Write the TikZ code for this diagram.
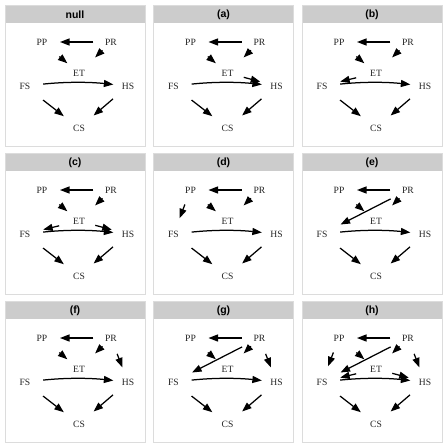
\documentclass[tikz,border=0pt]{standalone}
\usepackage{fontspec}
\setmainfont{Liberation Serif}
\newfontfamily\titlefont{Liberation Sans}
\usetikzlibrary{arrows.meta}
\definecolor{hdr}{RGB}{204,204,204}
\definecolor{pborder}{RGB}{220,220,220}
\tikzset{
  lbl/.style={font=\fontsize{9.6}{11}\selectfont, inner sep=0pt, text=black!85},
  ttl/.style={font=\titlefont\bfseries\fontsize{10.5}{12}\selectfont, inner sep=0pt},
  arr/.style={line width=1.25pt, -{Triangle[length=9.5pt,width=7pt]}},
  ePRPP/.style={arr, shorten <=17.7pt, shorten >=18pt},
  ePRET/.style={arr, shorten <=12pt, shorten >=22.4pt},
  ePPET/.style={arr, shorten <=22.6pt, shorten >=15.2pt},
  eFSHS/.style={arr, shorten <=18.2pt, shorten >=14.7pt, bend left=6},
  eFSCS/.style={arr, shorten <=22.9pt, shorten >=19.2pt},
  eHSCS/.style={arr, shorten <=19.8pt, shorten >=19.2pt},
  eETHS/.style={arr, shorten <=16.8pt, shorten >=16.8pt},
  eETFS/.style={arr, shorten <=20.4pt, shorten >=18.7pt},
  ePPFS/.style={arr, shorten <=15.5pt, shorten >=16.9pt},
  ePRFS/.style={arr, shorten <=19.5pt, shorten >=20.8pt},
  ePRHS/.style={arr, shorten <=17pt, shorten >=15.7pt}
}
\newcommand{\mypanel}[5]{%
  \begin{scope}[shift={(#1,#2)}, name prefix=#3-]
    \fill[white] (0,0) rectangle (140,141);
    \fill[hdr] (0,0) rectangle (140,18);
    \draw[pborder, line width=0.8pt] (0,0) rectangle (140,141);
    \node[ttl] (title) at (70,9.5) {#4};
    \node[lbl] (PP) at (37,37) {PP};
    \node[lbl] (PR) at (106,37) {PR};
    \node[lbl] (ET) at (74,68) {ET};
    \node[lbl] (FS) at (20,81) {FS};
    \node[lbl] (HS) at (123,81) {HS};
    \node[lbl] (CS) at (74,123) {CS};
    \draw[ePRPP] (PR.center) -- (PP.center);
    \draw[ePRET] (PR.center) -- (ET.center);
    \draw[ePPET] (PP.center) -- (ET.center);
    \draw[eFSHS] (FS.center) to (HS.center);
    \draw[eFSCS] (FS.center) -- (CS.center);
    \draw[eHSCS] (HS.center) -- (CS.center);
    #5
  \end{scope}}
\begin{document}
\begin{tikzpicture}[x=1pt, y=-1pt]
  \useasboundingbox (0,0) rectangle (443,445);
  \mypanel{5}{5}{p0}{null}{}
  \mypanel{153.5}{5}{pa}{(a)}{\draw[eETHS] (ET.center) -- (HS.center);}
  \mypanel{302}{5}{pb}{(b)}{\draw[eETFS] (ET.center) -- (FS.center);}
  \mypanel{5}{153}{pc}{(c)}{\draw[eETFS] (ET.center) -- (FS.center);
    \draw[eETHS] (ET.center) -- (HS.center);}
  \mypanel{153.5}{153}{pd}{(d)}{\draw[ePPFS] (PP.center) -- (FS.center);}
  \mypanel{302}{153}{pe}{(e)}{\draw[ePRFS] (PR.center) -- (FS.center);}
  \mypanel{5}{301}{pf}{(f)}{\draw[ePRHS] (PR.center) -- (HS.center);}
  \mypanel{153.5}{301}{pg}{(g)}{\draw[ePRFS] (PR.center) -- (FS.center);
    \draw[ePRHS] (PR.center) -- (HS.center);}
  \mypanel{302}{301}{ph}{(h)}{\draw[ePPFS] (PP.center) -- (FS.center);
    \draw[ePRFS] (PR.center) -- (FS.center);
    \draw[eETFS] (ET.center) -- (FS.center);
    \draw[eETHS] (ET.center) -- (HS.center);
    \draw[ePRHS] (PR.center) -- (HS.center);}
\end{tikzpicture}
\end{document}
